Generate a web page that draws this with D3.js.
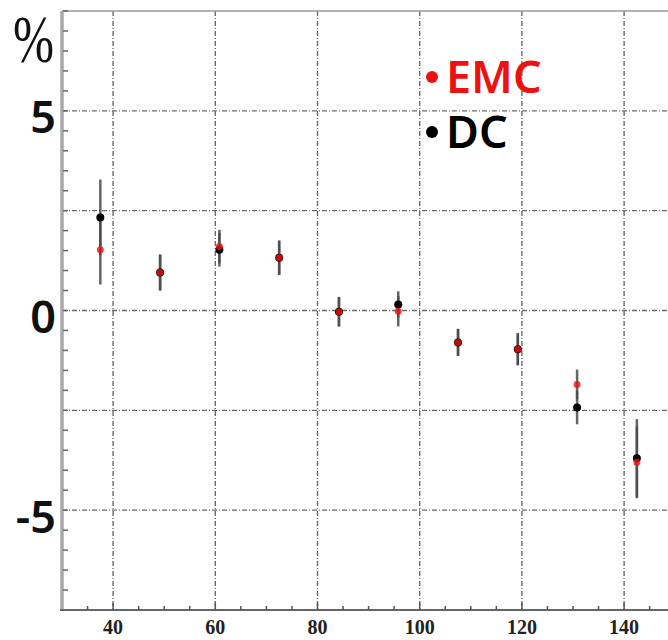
<!DOCTYPE html>
<html>
<head>
<meta charset="utf-8">
<script src="https://cdn.jsdelivr.net/npm/d3@7"></script>
<style>
  html, body { margin: 0; padding: 0; background: #fff; }
  svg { display: block; }
</style>
</head>
<body>
<div id="chart"></div>
<script>
// ---- data ----
const xValues   = [37.5, 49.2, 60.8, 72.5, 84.2, 95.8, 107.5, 119.2, 130.8, 142.5];
const dcValues  = [2.33, 0.95, 1.52, 1.32, -0.03, 0.15, -0.80, -0.97, -2.43, -3.70];
const dcErrors  = [0.95, 0.45, 0.42, 0.43, 0.37, 0.33, 0.34, 0.40, 0.42, 0.98];
const emcValues = [1.52, 0.95, 1.60, 1.32, -0.03, -0.02, -0.80, -0.97, -1.85, -3.80];
const emcErrors = [0.87, 0.45, 0.42, 0.43, 0.37, 0.38, 0.34, 0.40, 0.37, 0.90];
const xTicks = [40, 60, 80, 100, 120, 140];
const xMinorTicks = d3.range(35, 150, 5);
const yTickLabels = [5, 0, -5];
const yGrid = [5, 2.5, 0, -2.5, -5];
const yMinorTicks = d3.range(-7.5, 7.51, 0.5);
const seriesNames = ["EMC", "DC"];
const seriesColors = ["#ee1111", "#000000"];

const W = 668, H = 640;
const svg = d3.select("#chart").append("svg").attr("width", W).attr("height", H);

const x = d3.scaleLinear().domain([30, 150]).range([62, 62 + 120 * 5.11]);
const y = d3.scaleLinear().domain([-7.5, 7.5]).range([610, 11]);

const plot = svg.append("g");

// grid lines
plot.selectAll(".vgrid").data(xTicks).join("line")
  .attr("x1", d => x(d)).attr("x2", d => x(d))
  .attr("y1", y(7.5)).attr("y2", y(-7.5))
  .attr("stroke", "#6a6a6a").attr("stroke-width", 1.4)
  .attr("stroke-dasharray", "5,2,1,2");
plot.selectAll(".hgrid").data(yGrid).join("line")
  .attr("x1", x(30)).attr("x2", W)
  .attr("y1", d => y(d)).attr("y2", d => y(d))
  .attr("stroke", "#6a6a6a").attr("stroke-width", 1.4)
  .attr("stroke-dasharray", "5,2,1,2");

// top frame line
plot.append("line").attr("x1", x(30)).attr("x2", W)
  .attr("y1", y(7.5)).attr("y2", y(7.5))
  .attr("stroke", "#9a9a9a").attr("stroke-width", 1.6);

// left axis
plot.append("line").attr("x1", x(30)).attr("x2", x(30))
  .attr("y1", y(7.5)).attr("y2", y(-7.5))
  .attr("stroke", "#a8a8a8").attr("stroke-width", 3.5);
plot.selectAll(".ymin").data(yMinorTicks).join("line")
  .attr("x1", x(30) + 1).attr("x2", x(30) + 6)
  .attr("y1", d => y(d)).attr("y2", d => y(d))
  .attr("stroke", "#666").attr("stroke-width", 1.5);

// bottom axis
plot.append("line").attr("x1", x(30) - 2).attr("x2", W)
  .attr("y1", y(-7.5)).attr("y2", y(-7.5))
  .attr("stroke", "#666").attr("stroke-width", 2);
plot.selectAll(".xmin").data(xMinorTicks).join("line")
  .attr("x1", d => x(d)).attr("x2", d => x(d))
  .attr("y1", y(-7.5)).attr("y2", d => y(-7.5) - (d % 20 === 0 ? 7 : 4))
  .attr("stroke", "#555").attr("stroke-width", 1.5);

// x tick labels
svg.selectAll(".xlab").data(xTicks).join("text")
  .attr("x", d => x(d)).attr("y", 634)
  .attr("text-anchor", "middle")
  .attr("font-family", "'Liberation Serif', 'DejaVu Serif', serif")
  .attr("font-weight", "bold").attr("font-size", 20)
  .attr("fill", "#222")
  .text(d => d);

// y tick labels
svg.selectAll(".ylab").data(yTickLabels).join("text")
  .attr("x", 56).attr("y", d => y(d) + 5)
  .attr("text-anchor", "end").attr("dominant-baseline", "central")
  .attr("font-family", "'Noto Sans', 'Open Sans', sans-serif")
  .attr("font-weight", 600).attr("font-size", 45)
  .attr("fill", "#111")
  .text(d => d);

// % unit label
svg.append("text")
  .attr("x", 13).attr("y", 62)
  .attr("textLength", 41).attr("lengthAdjust", "spacingAndGlyphs")
  .attr("font-family", "'Liberation Serif', serif")
  .attr("font-size", 67).attr("fill", "#111")
  .text("%");

// error bars
const errData = [];
xValues.forEach((xv, i) => {
  errData.push({ x: xv, lo: dcValues[i] - dcErrors[i], hi: dcValues[i] + dcErrors[i] });
  errData.push({ x: xv, lo: emcValues[i] - emcErrors[i], hi: emcValues[i] + emcErrors[i] });
});
plot.selectAll(".err").data(errData).join("line")
  .attr("x1", d => x(d.x)).attr("x2", d => x(d.x))
  .attr("y1", d => y(d.hi)).attr("y2", d => y(d.lo))
  .attr("stroke", "#4a4a4a").attr("stroke-width", 2.5).attr("stroke-opacity", 0.85);

// markers: DC black then EMC red
plot.selectAll(".dc").data(xValues).join("circle")
  .attr("cx", d => x(d)).attr("cy", (d, i) => y(dcValues[i]))
  .attr("r", 4).attr("fill", seriesColors[1]);
plot.selectAll(".emc").data(xValues).join("circle")
  .attr("cx", d => x(d)).attr("cy", (d, i) => y(emcValues[i]))
  .attr("r", 3.5).attr("fill", seriesColors[0]).attr("fill-opacity", 0.8);

// legend
const legend = svg.append("g");
const legendY = [93, 148];
seriesNames.forEach((name, i) => {
  legend.append("circle").attr("cx", 432).attr("cy", legendY[i] - 16).attr("r", 6)
    .attr("fill", seriesColors[i]);
  legend.append("text").attr("x", 446).attr("y", legendY[i])
    .attr("font-family", "'Noto Sans', 'Open Sans', sans-serif")
    .attr("font-weight", 600).attr("font-size", 45)
    .attr("fill", seriesColors[i])
    .text(name);
});
</script>
</body>
</html>
